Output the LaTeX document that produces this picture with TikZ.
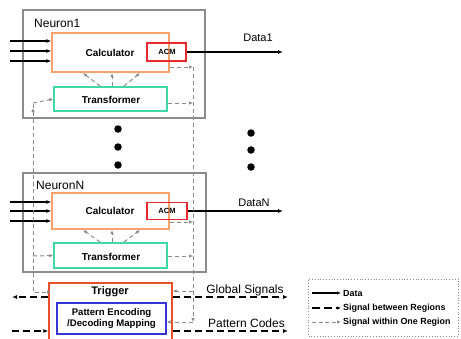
\documentclass[tikz,border=0pt]{standalone}
\usepackage{fontspec}
\setmainfont{Liberation Sans}
\usetikzlibrary{arrows.meta}
\definecolor{nbox}{HTML}{8C8C8C}
\definecolor{calc}{HTML}{F7A26A}
\definecolor{acm}{HTML}{E8282E}
\definecolor{trans}{HTML}{3ED9A6}
\definecolor{trig}{HTML}{E8502A}
\definecolor{patt}{HTML}{3535D8}
\definecolor{sigc}{HTML}{8A8A8A}
\tikzset{
  neuronbox/.style={draw=nbox,line width=1.4pt},
  calcbox/.style={draw=calc,line width=1.3pt},
  acmbox/.style={draw=acm,line width=1.3pt},
  transbox/.style={draw=trans,line width=1.4pt},
  trigbox/.style={draw=trig,line width=1.4pt},
  pattbox/.style={draw=patt,line width=1.3pt},
  dataline/.style={line width=1.5pt,-{Latex[length=5pt,width=4pt]}},
  sig/.style={draw=sigc,line width=1pt,dash pattern=on 4pt off 3pt},
  sigarr/.style={sig,-{Latex[length=4pt,width=3.5pt]}},
  glob/.style={line width=1.6pt,dash pattern=on 7pt off 4pt},
  globarr/.style={glob,-{Latex[length=5pt,width=4pt]}},
  lbl/.style={inner sep=0pt,font=\fontsize{12}{12}\selectfont},
  blbl/.style={inner sep=0pt,font=\fontsize{10}{10}\selectfont\bfseries},
  legtxt/.style={inner sep=0pt,anchor=west,font=\fontsize{8.9}{8.9}\selectfont\bfseries},
  dotmark/.style={circle,fill=black,inner sep=0pt,minimum size=7.5pt},
}
\begin{document}
\begin{tikzpicture}[x=1pt,y=-1pt]
\useasboundingbox (0,0) rectangle (461,338);
% ---------- Neuron1 ----------
\node[neuronbox,minimum width=182pt,minimum height=108pt,inner sep=0pt] (n1) at (114,64) {};
\node[lbl,anchor=west] (n1l) at (34,23) {Neuron1};
\node[calcbox,minimum width=117pt,minimum height=39pt,inner sep=0pt] (c1) at (110.5,52.5) {};
\node[blbl] (c1t) at (110,53) {Calculator};
\node[acmbox,minimum width=39pt,minimum height=18pt,inner sep=0pt] (a1) at (166.5,52) {};
\node[inner sep=0pt,font=\fontsize{7.5}{7.5}\selectfont\bfseries] (a1t) at (167,52) {ACM};
\node[transbox,minimum width=113pt,minimum height=24pt,inner sep=0pt] (t1) at (110.5,99) {};
\node[blbl] (t1t) at (111,100) {Transformer};
% inputs
\coordinate (i11) at (10,41); \coordinate (i12) at (10,51); \coordinate (i13) at (10,61);
\draw[dataline] (i11) -- (i11 -| c1.west);
\draw[dataline] (i12) -- (i12 -| c1.west);
\draw[dataline] (i13) -- (i13 -| c1.west);
\coordinate (o1) at (283,52);
\draw[dataline] (a1.east) -- (o1);
\node[inner sep=0pt,font=\fontsize{11}{11}\selectfont] (d1) at (258,38) {Data1};
% transformer -> calculator
\draw[sigarr] (100,86) -- (83,73);
\draw[sigarr] (112,86) -- (112,73);
\draw[sigarr] (124,86) -- (140,73);
% ---------- NeuronN ----------
\node[neuronbox,minimum width=183pt,minimum height=99pt,inner sep=0pt] (nN) at (114.5,222.5) {};
\node[lbl,anchor=west] (nNl) at (36,185) {NeuronN};
\node[calcbox,minimum width=117pt,minimum height=36pt,inner sep=0pt] (cN) at (110.5,211) {};
\node[blbl] (cNt) at (110,211) {Calculator};
\node[acmbox,minimum width=40pt,minimum height=17pt,inner sep=0pt] (aN) at (167,211) {};
\node[inner sep=0pt,font=\fontsize{7.5}{7.5}\selectfont\bfseries] (aNt) at (167,211) {ACM};
\node[transbox,minimum width=113pt,minimum height=25pt,inner sep=0pt] (tN) at (110.5,255.5) {};
\node[blbl] (tNt) at (111,256.5) {Transformer};
\coordinate (iN1) at (10,202); \coordinate (iN2) at (10,211); \coordinate (iN3) at (10,221);
\draw[dataline] (iN1) -- (iN1 -| cN.west);
\draw[dataline] (iN2) -- (iN2 -| cN.west);
\draw[dataline] (iN3) -- (iN3 -| cN.west);
\coordinate (oN) at (283,211);
\draw[dataline] (aN.east) -- (oN);
\node[inner sep=0pt,font=\fontsize{11}{11}\selectfont] (dN) at (254,203) {DataN};
\draw[sigarr] (100,242) -- (83,230);
\draw[sigarr] (112,242) -- (112,230);
\draw[sigarr] (124,242) -- (140,230);
% ---------- dots ----------
\node[dotmark] (dl1) at (118,129) {};
\node[dotmark] (dl2) at (118,147) {};
\node[dotmark] (dl3) at (118,165) {};
\node[dotmark] (dr1) at (251,133) {};
\node[dotmark] (dr2) at (251,150) {};
\node[dotmark] (dr3) at (251,167) {};
% ---------- Trigger ----------
\node[trigbox,minimum width=123pt,minimum height=60pt,inner sep=0pt] (tr) at (110.5,313) {};
\node[inner sep=0pt,font=\fontsize{11}{11}\selectfont\bfseries] (trt) at (110,292) {Trigger};
\node[pattbox,minimum width=109pt,minimum height=31pt,inner sep=0pt,align=center,font=\fontsize{9.6}{11}\selectfont\bfseries] (pe) at (111.5,318.5) {Pattern Encoding\\/Decoding Mapping};
% ---------- signals within a region ----------
\coordinate (L1) at (33,103);
\coordinate (L1b) at (33,108);
\coordinate (LN) at (33,256);
\coordinate (Lt) at (51,292);
\draw[sig,{Latex[length=4pt,width=3.5pt]}-{Latex[length=4pt,width=3.5pt]}] (L1b) |- (Lt);
\draw[sig] (L1b) -- (L1);
\draw[sigarr] (L1) -- (t1.west);
\draw[sigarr] (LN) -- (tN.west);
\coordinate (R1) at (193,67);
\coordinate (R1t) at (193,103);
\coordinate (RNc) at (193,222);
\coordinate (RNt) at (193,256);
\coordinate (Rg) at (193,291);
\coordinate (Rb) at (193,322);
\draw[sigarr] (c1.east |- R1) -- (R1);
\draw[sigarr] (t1.east |- R1t) -- (R1t);
\draw[sigarr] (cN.east |- RNc) -- (RNc);
\draw[sigarr] (tN.east |- RNt) -- (RNt);
\draw[sigarr] (R1) -- (Rb);
\draw[sigarr] (Rg) -- (tr.east |- Rg);
\draw[sigarr] (Rb) -- (pe.east |- Rb);
% ---------- global signals / pattern codes ----------
\coordinate (gl) at (12,297);
\coordinate (gr) at (288,297);
\draw[globarr] (tr.west |- gl) -- (gl);
\draw[globarr] (tr.east |- gr) -- (gr);
\node[lbl] (gs) at (245,290) {Global Signals};
\coordinate (pl) at (12,331);
\coordinate (pr) at (288,331);
\draw[globarr] (pl) -- (tr.west |- pl);
\draw[globarr] (tr.east |- pr) -- (pr);
\node[lbl] (pc) at (246.5,323) {Pattern Codes};
% ---------- legend ----------
\node[draw=sigc,dotted,line width=0.8pt,minimum width=150pt,minimum height=57pt,inner sep=0pt] (lg) at (383.5,307.5) {};
\coordinate (la1) at (312,293); \coordinate (la2) at (341,293);
\coordinate (lb1) at (312,308); \coordinate (lb2) at (341,308);
\coordinate (lc1) at (312,322); \coordinate (lc2) at (341,322);
\draw[line width=1.2pt,-{Latex[length=4pt,width=3.5pt]}] (la1) -- (la2);
\draw[line width=1.5pt,dash pattern=on 8pt off 4pt,-{Latex[length=4pt,width=3.5pt]}] (lb1) -- (lb2);
\draw[draw=sigc,line width=0.9pt,dash pattern=on 4pt off 2.5pt,-{Latex[length=4pt,width=3.5pt]}] (lc1) -- (lc2);
\node[legtxt] (lat) at (343,293) {Data};
\node[legtxt] (lbt) at (343,308) {Signal between Regions};
\node[legtxt] (lct) at (343,322) {Signal within One Region};
\end{tikzpicture}
\end{document}
